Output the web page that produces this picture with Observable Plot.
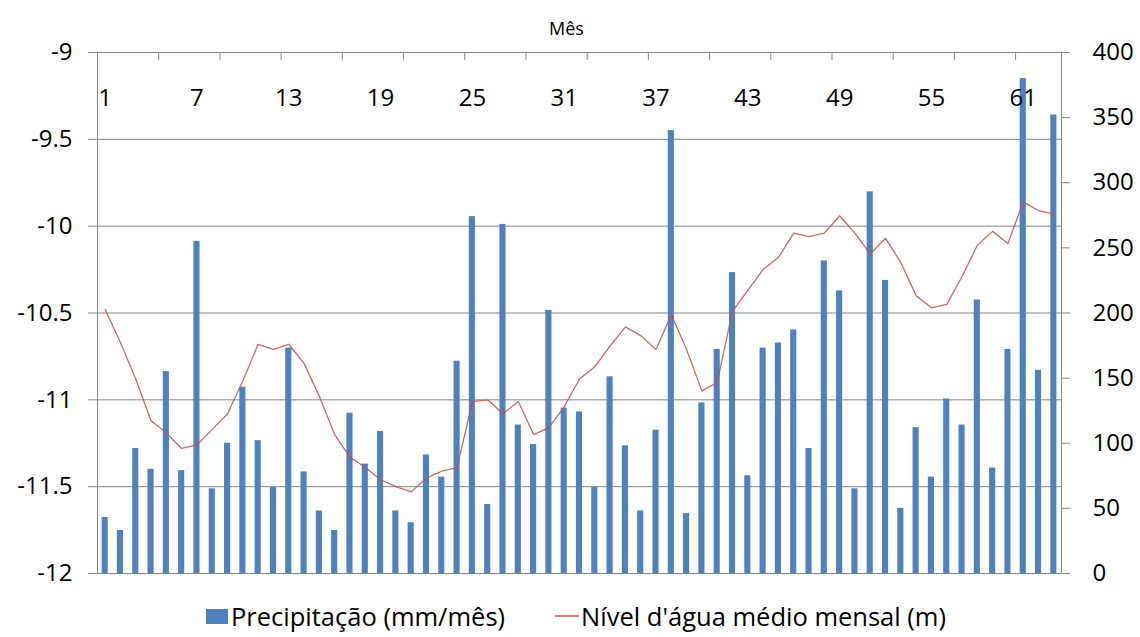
<!DOCTYPE html>
<html><head><meta charset="utf-8">
<script src="https://cdn.jsdelivr.net/npm/d3@7"></script>
<script src="https://cdn.jsdelivr.net/npm/@observablehq/plot@0.6"></script>
<style>
html,body{margin:0;padding:0;background:#fff;}
body{width:1140px;height:637px;overflow:hidden;font-family:"Open Sans",sans-serif;}
#legend{display:flex;justify-content:center;align-items:center;height:42px;font-size:25.5px;color:#000;margin-left:12px;}
.item{display:flex;align-items:center;}
.sw{display:inline-block;width:22px;height:15px;background:#4f81bd;margin-right:3px;}
.ln{display:inline-block;width:24px;height:2px;background:#d07a78;margin-right:2px;}
</style></head><body>
<div id="chart"></div>
<div id="legend">
  <div class="item"><span class="sw"></span><span>Precipitação (mm/mês)</span></div>
  <div class="item" style="margin-left:50px"><span class="ln"></span><span>Nível d'água médio mensal (m)</span></div>
</div>
<script>
const months = d3.range(1, 64);
const precipitation = [43,33,96,80,155,79,255,65,100,143,102,66,173,78,48,33,123,84,109,48,39,91,74,163,274,53,268,114,99,202,127,124,66,151,98,48,110,340,46,131,172,231,75,173,177,187,96,240,217,65,293,225,50,112,74,134,114,210,81,172,380,156,352];
const waterLevel = [-10.48,-10.67,-10.88,-11.12,-11.19,-11.28,-11.26,-11.17,-11.08,-10.89,-10.68,-10.71,-10.68,-10.79,-10.98,-11.20,-11.33,-11.39,-11.46,-11.50,-11.53,-11.45,-11.41,-11.39,-11.01,-11.00,-11.08,-11.01,-11.20,-11.16,-11.04,-10.88,-10.81,-10.69,-10.58,-10.63,-10.71,-10.51,-10.71,-10.95,-10.90,-10.49,-10.37,-10.25,-10.18,-10.04,-10.06,-10.04,-9.94,-10.04,-10.16,-10.07,-10.21,-10.40,-10.47,-10.45,-10.29,-10.11,-10.03,-10.10,-9.86,-9.91,-9.93];
const monthLabels = [1,7,13,19,25,31,37,43,49,55,61];
const leftTicks = [-12,-11.5,-11,-10.5,-10,-9.5,-9];
const rightTicks = [0,50,100,150,200,250,300,350,400];
const xTickBounds = d3.range(0.5, 61, 4);
const xDomain = [0.5, 63.5];

const data = months.map((m, i) => ({month: m, precip: precipitation[i], level: waterLevel[i]}));
const toLeft = p => -12 + p * 3 / 400;
const fromLeft = v => Math.round((v + 12) * 400 / 3);
const gray = "#868686";
const H = 595, MT = 52, MB = 22;

const chart = Plot.plot({
  width: 1140, height: H,
  marginLeft: 97, marginRight: 79, marginTop: MT, marginBottom: MB,
  x: {type: "linear", domain: xDomain, axis: null},
  y: {domain: [leftTicks[0], leftTicks[leftTicks.length - 1]], axis: null},
  style: {fontFamily: "'Open Sans', sans-serif", fontSize: "22px", color: "#000", background: "#fff"},
  marks: [
    Plot.gridY(leftTicks, {stroke: gray, strokeOpacity: 1}),
    Plot.rectY(data, {x1: d => d.month - 0.2, x2: d => d.month + 0.2, y1: leftTicks[0], y2: d => toLeft(d.precip), fill: "#4f81bd"}),
    Plot.line(data, {x: "month", y: "level", stroke: "#c0504d", strokeWidth: 1.3, strokeOpacity: 0.85}),
    Plot.ruleX([xDomain[0], xDomain[1]], {stroke: gray}),
    Plot.tickX(xTickBounds, {x: d => d, stroke: gray, insetBottom: H - MT - MB - 8}),
    Plot.axisY(leftTicks, {anchor: "left", tickSize: 9, tickPadding: 16, stroke: gray, fontSize: 24, tickFormat: d => String(d), label: null}),
    Plot.axisY(rightTicks.map(toLeft), {anchor: "right", tickSize: 8, tickPadding: 23, stroke: gray, fontSize: 24, tickFormat: d => String(fromLeft(d)), label: null}),
    Plot.text(monthLabels, {x: d => d, text: d => String(d), frameAnchor: "top", dy: 36, fontSize: 24, fill: "#000"}),
    Plot.text(["Mês"], {text: d => d, frameAnchor: "top", dy: -30, dx: -13, fontSize: 18, fill: "#000"})
  ]
});
document.getElementById("chart").append(chart);
</script>
</body></html>
